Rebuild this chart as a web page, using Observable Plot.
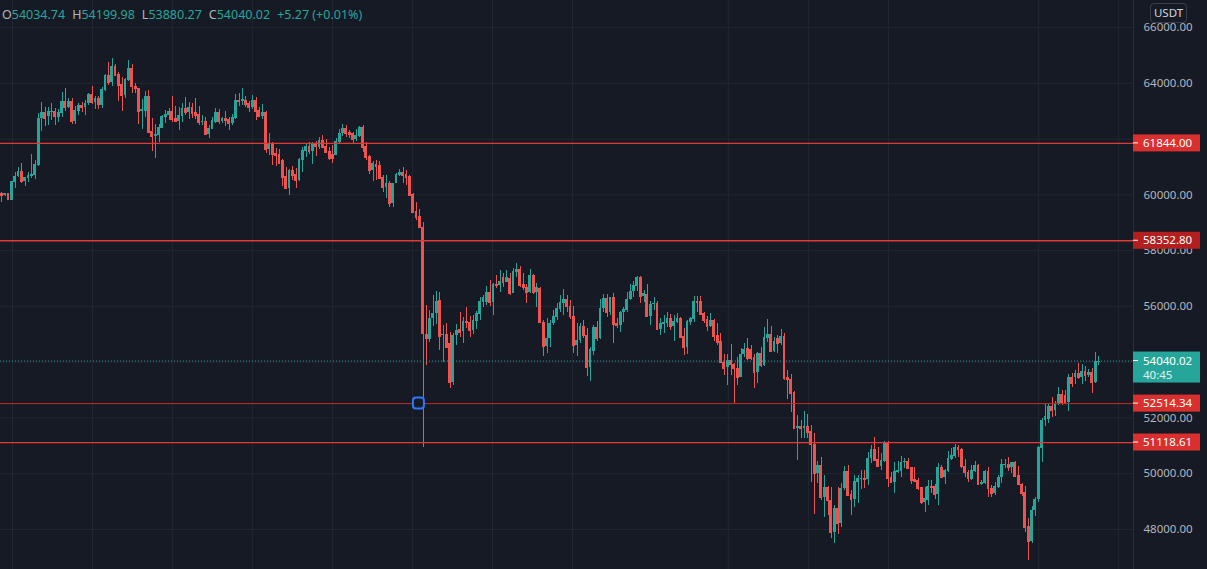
<!DOCTYPE html>
<html><head><meta charset="utf-8">
<script src="https://cdn.jsdelivr.net/npm/d3@7"></script>
<script src="https://cdn.jsdelivr.net/npm/@observablehq/plot@0.6"></script>
<style>
html,body{margin:0;padding:0;background:#161a25;overflow:hidden}
#wrap{position:relative;width:1207px;height:569px}
#hdr{position:absolute;left:2px;top:6px;font-family:"Noto Sans";font-size:12.5px;line-height:18px;color:#b2b5be;white-space:nowrap}
#hdr .v{color:#26a69a;margin-right:7px}
#usdt{position:absolute;left:1150px;top:3px;width:35px;height:18px;border:1px solid #3a3e4a;border-radius:4px;font-family:"Noto Sans";font-size:11.5px;color:#d1d4dc;text-align:center;line-height:18px;background:#161a25}
</style></head>
<body><div id="wrap"><div id="chart"></div>
<div id="hdr"><span>O</span><span class="v">54034.74</span><span>H</span><span class="v">54199.98</span><span>L</span><span class="v">53880.27</span><span>C</span><span class="v">54040.02</span><span class="v">+5.27 (+0.01%)</span></div>
<div id="usdt">USDT</div>
</div>
<script>
const opens = [
60061,59977,60037,59810,60455,60658,60837,60491,60586,60658,
60706,61052,62725,62952,62821,62952,62988,62785,62928,63347,
63144,63347,62642,62988,63203,63144,63263,63598,63323,63442,
63203,63741,64279,64040,64601,64315,63956,63574,64100,64530,
63884,63801,63000,63000,63526,62271,62092,62140,62391,62785,
62845,62988,62737,62642,62809,63108,62952,63120,62964,62880,
62606,62642,62164,62355,62606,62953,62642,62749,62714,62546,
62726,63383,63347,63383,63287,63144,63383,63024,62809,62953,
61638,61853,61495,61447,61232,60658,60240,60873,60730,60515,
61232,61567,61734,61567,61853,61710,61949,61734,61567,61447,
61411,61889,62188,62367,62248,62212,61985,62104,62415,61734,
61375,60873,61088,61052,60634,60276,60419,59702,60395,60694,
60813,60730,60658,60001,59403,59224,58817,54993,54814,55555,
55734,56212,54957,54993,54658,53284,54957,55160,55112,55471,
55435,55136,55471,55710,56152,56152,56511,56152,56786,56750,
57048,56869,56988,56475,57228,57311,56786,56690,56511,57108,
56511,56630,55435,54575,54838,55375,55614,55889,56116,56248,
55997,55638,54598,54778,55279,54956,53821,54395,55255,54861,
55936,56295,55793,56331,55375,55303,55793,55852,56247,56546,
56713,57047,56354,56426,55637,56068,56115,55159,55351,55375,
55554,55291,55434,55554,54920,54514,55434,55530,56175,56175,
55757,55518,55291,55494,54956,54741,54000,53797,54060,53917,
53785,53462,54263,54478,54442,54180,53642,54299,53881,54861,
54992,54383,54837,54657,54921,53463,53379,52925,51611,51694,
51611,51694,51515,51049,49997,50296,49161,49520,49042,47906,
48743,48205,49460,50081,49257,49077,49699,49806,49842,49806,
50559,50882,50500,50272,50452,51133,49878,49699,50057,50081,
50392,50440,50213,49782,49758,49520,48958,49041,49543,49543,
49257,50237,49878,50093,50511,50631,50929,50869,50272,50033,
49794,50093,50296,49603,49638,50081,49483,49280,49519,49854,
50296,50332,50212,50415,49937,49615,49340,48108,47583,48683,
49065,50893,51909,51957,52423,52268,52507,52841,52805,52543,
53462,53439,53606,53462,53666,53534,53618,53283,54034.74];
const highs = [
60085,60061,60037,60479,60802,60981,61124,60634,60814,61447,
61232,62905,63311,63120,63120,63263,63084,63060,63669,63813,
63466,63466,63168,63287,63323,63371,63622,63884,63526,63526,
63861,64315,64733,64888,64673,64398,64219,64159,64817,64673,
63980,63825,63406,63717,63741,62725,62522,62522,62845,63024,
63084,63526,63168,63120,63287,63478,63323,63263,63466,63168,
62845,62762,62487,62762,63096,63048,62785,62989,62785,62869,
63598,63646,63813,63526,63359,63562,63502,63120,63240,62989,
62188,61889,61650,61614,61268,60969,60897,61017,60933,61315,
61710,61829,61889,61889,61925,62044,62128,61973,61710,61769,
62008,62331,62522,62487,62307,62248,62331,62451,62487,61889,
61411,61208,61232,61208,60694,60694,60490,60419,60777,60909,
60969,60873,60682,60036,59738,59463,59020,56033,55854,56392,
56535,56511,55316,55376,55076,55017,55340,55770,55614,55973,
55638,55674,55818,56332,56392,56714,56929,56810,57108,57287,
57168,57287,57168,57347,57526,57431,57168,56786,57311,57132,
56810,56666,55495,55555,55495,55854,56092,56392,56594,56392,
56212,55997,55376,55376,55494,55195,54538,55315,55458,56235,
56426,56426,56331,56450,55554,55829,55972,56510,56785,56904,
57071,57083,56570,56785,56187,56307,56187,55554,55673,55793,
55709,55673,55733,55613,55195,55494,55613,56354,56354,56354,
55793,55637,55733,55518,55398,55040,54275,54275,54634,53940,
54156,54478,54657,54837,54598,54263,54359,54538,55255,55518,
55279,54873,54956,55159,55016,53702,53547,52961,52089,51910,
52232,52125,51731,51431,50440,50595,49938,49543,49519,48862,
49519,49639,50260,50296,49400,49938,49938,50117,50117,50774,
51013,51312,50954,50714,51156,51156,50057,50416,50440,50631,
50535,50535,50237,50237,49818,49520,49520,49758,49758,49603,
50356,50296,50141,50798,50918,51037,51013,50917,50511,50117,
50296,50451,50320,49758,50117,50236,49578,49698,49937,50511,
50511,50571,50415,50451,50260,49638,49555,48384,48838,49160,
50977,51993,52470,52482,52746,52590,53104,52984,52984,53558,
53582,53701,53964,53917,53845,53725,53761,54335,54199.98];
const lows = [
59714,59954,59810,59798,60216,60634,60419,60300,60455,60574,
60562,61016,62271,62450,62498,62666,62498,62606,62785,63000,
63084,62522,62534,62845,62964,62845,63203,63227,63060,63048,
63084,63717,63932,63884,64243,63359,63000,63442,64076,63645,
63622,62522,62343,62785,62211,61554,61315,61889,62367,62546,
62666,62606,62606,62307,62606,62845,62689,62725,62689,62500,
62487,62128,62032,62331,62570,62511,62546,62450,62307,62487,
62714,63168,63192,63120,62941,63060,62666,62761,62702,61495,
61411,61053,61017,61112,60300,60216,59989,60515,60240,60491,
60814,61327,61447,61088,61375,61626,61650,61471,61232,61112,
61411,61829,62092,62068,62008,61853,61925,62068,61531,61232,
60718,60491,60515,60550,60097,59858,59558,59558,60395,60670,
60395,60335,59950,59319,59080,58782,50954,53881,54718,55290,
55352,54419,54001,54479,53045,53165,54598,54896,54682,55196,
54872,54992,55160,55495,55973,56033,55997,55674,56630,56511,
56666,56869,56392,56451,57048,56690,56570,56116,56451,56426,
55973,55400,54216,54324,54539,55316,55495,55794,55674,55794,
55519,54324,54204,54658,54837,53486,53319,54239,54753,54813,
55793,55590,55673,54657,55195,55076,55434,55793,56211,56331,
56546,56092,56151,55637,55315,55852,55136,54956,55016,55255,
55136,54741,55375,54873,54239,54275,55315,55434,55769,55673,
55375,55112,55255,54741,54598,53976,53522,53164,53522,52520,
53164,53438,54180,54060,54060,53068,53223,53821,53845,54717,
54359,54359,54299,54598,53344,52650,52208,51587,50476,51252,
51252,51252,49699,48540,49639,49041,48444,48504,47667,47488,
47822,48085,49400,49185,48504,48803,48946,49436,49484,49579,
50380,50476,50272,50117,50416,49519,49675,49281,50000,49878,
50177,50177,49615,49675,49400,48898,48623,48862,49304,49077,
48862,49818,49615,50057,50476,50535,50595,50176,49878,49698,
49758,50057,49580,49579,49615,49137,49160,49220,49459,49662,
50176,50093,50021,49877,49567,49196,47882,46890,47488,48479,
48980,50415,51694,51813,52029,52052,52447,52447,52470,52243,
53104,53199,53378,53199,53319,53462,52865,53223,53880.27];
const closes = [
59977,60037,59822,60479,60658,60849,60491,60634,60682,60730,
61076,62725,62952,62749,62988,62988,62797,62940,63347,63144,
63347,62642,63024,63203,63144,63287,63598,63323,63442,63227,
63765,64279,64040,64601,64279,63932,63574,64123,64530,63884,
63801,63000,63060,63526,62247,62092,62164,62403,62809,62880,
62988,62713,62642,62845,63084,62940,63120,62905,62845,62606,
62642,62152,62391,62666,62953,62618,62749,62666,62570,62785,
63383,63359,63407,63240,63120,63383,63000,62809,62953,61638,
61806,61447,61399,61136,60634,60240,60873,60694,60515,61268,
61590,61734,61567,61853,61734,61949,61710,61531,61315,61315,
61913,62212,62367,62188,62164,61985,62128,62415,61710,61327,
60873,61112,61017,60574,60276,60419,59701,60419,60730,60813,
60694,60634,59977,59379,59200,58818,55017,54838,55555,55758,
56188,54933,54993,54539,53284,54957,55136,55076,55471,55435,
55136,55495,55734,56188,56308,56511,56152,56786,56750,56893,
56869,57024,56475,57264,57323,56750,56666,56511,57108,56511,
56666,55435,54575,54838,55400,55638,55913,56128,56248,55997,
55638,54598,54778,55279,54956,53821,54442,55255,54861,55936,
56295,55793,56331,55339,55303,55793,55876,56247,56546,56749,
57047,56354,56450,55637,56068,56115,55159,55375,55434,55554,
55291,55458,55554,54873,54514,55458,55554,56175,56151,55709,
55494,55291,55494,54932,54717,53976,53785,54060,53905,53761,
53462,54263,54442,54144,54144,53642,54299,53881,54873,54992,
54383,54753,54657,54920,53427,53367,52889,51611,51694,51611,
51694,51491,51037,49997,50296,49161,49520,49042,47906,48743,
48205,49460,50081,49221,49077,49723,49818,49842,49806,50559,
50882,50476,50272,50476,51133,49842,49699,50081,50117,50416,
50440,50201,49758,49723,49460,48958,49101,49543,49519,49257,
50237,49878,50117,50559,50655,50954,50858,50272,50033,49818,
50117,50296,49603,49698,50081,49459,49304,49543,49878,50320,
50320,50212,50391,49913,49603,49280,48085,47583,48683,49065,
50929,51909,52061,52423,52268,52530,52841,52566,52543,53462,
53223,53606,53462,53666,53534,53618,53283,54036,54040.02];

// candle index where each day's grid line falls
const dayStarts = [3.2, 27.1, 51.0, 74.9, 98.9, 122.8, 146.7, 170.6, 217.2, 241.2, 265.1, 310.0, 333.9];
const yTicks = [48000, 50000, 52000, 54000, 56000, 58000, 60000, 62000, 64000, 66000];
const priceLevels = [61844.00, 58352.80, 52514.34, 51118.61];
const levelLabelColors = ["#d9302f", "#b31e1e", "#d9302f", "#d9302f"];
const lastPrice = 54040.02;
const countdown = "40:45";
const anchorPoint = {index: 124.7, price: 52514.34};

const UP = "#26a69a", DOWN = "#ef5350";
const candles = closes.map((c, i) => ({i, open: opens[i], high: highs[i], low: lows[i], close: c}));
const col = d => d.close >= d.open ? UP : DOWN;
const xDomain = [-0.39, 338.33];
const hw = 0.42;

const chart = Plot.plot({
  width: 1207, height: 569,
  marginLeft: 0, marginRight: 74, marginTop: 0, marginBottom: 0,
  style: {background: "#161a25", color: "#b2b5be", fontFamily: "Noto Sans", fontSize: "11.5px", overflow: "visible"},
  x: {type: "linear", domain: xDomain, axis: null},
  y: {domain: [46566, 66968], axis: null},
  color: {type: "identity"},
  marks: [
    Plot.ruleY(yTicks, {stroke: "#232632", strokeWidth: 1}),
    Plot.ruleX(dayStarts, {stroke: "#232632", strokeWidth: 1}),
    Plot.ruleX(candles, {x: "i", y1: "low", y2: "high", stroke: col, strokeWidth: 1, shapeRendering: "crispEdges"}),
    Plot.rect(candles, {x1: d => d.i - hw, x2: d => d.i + hw, y1: "open", y2: "close", fill: col, shapeRendering: "crispEdges"}),
    Plot.ruleY(candles, {y: "close", x1: d => d.i - hw, x2: d => d.i + hw, stroke: col, strokeWidth: 1, shapeRendering: "crispEdges"}),
    Plot.ruleY(priceLevels, {stroke: (d, i) => i === 2 ? "#c62828" : "#e53935", strokeWidth: (d, i) => i === 2 ? 1 : 1.3}),
    Plot.ruleY([lastPrice], {stroke: UP, strokeWidth: 1, strokeDasharray: "1,2"}),
    Plot.ruleX([xDomain[1]], {stroke: "#2a2e39", strokeWidth: 1}),
    Plot.text(yTicks, {y: d => d, frameAnchor: "right", dx: 10, textAnchor: "start", text: d => d.toFixed(2), fill: "#b2b5be", fontSize: 11.5})
  ]
});
document.getElementById("chart").appendChild(chart);

const sy = chart.scale("y"), sx = chart.scale("x");
const svg = d3.select(chart);
const axisX = sx.apply(xDomain[1]);
const g = svg.append("g").attr("font-family", "Noto Sans").attr("font-size", 11.5).attr("text-anchor", "start");

priceLevels.forEach((p, k) => {
  const yy = sy.apply(p);
  g.append("rect").attr("x", axisX).attr("y", yy - 8.5).attr("width", 67).attr("height", 17).attr("fill", levelLabelColors[k]);
  g.append("line").attr("x1", axisX).attr("x2", axisX + 5).attr("y1", yy).attr("y2", yy).attr("stroke", "#ffffff").attr("stroke-width", 1);
  g.append("text").attr("x", axisX + 10).attr("y", yy).attr("dy", "0.35em").attr("text-anchor", "start").attr("fill", "#ffffff").text(p.toFixed(2));
});

{
  const yy = sy.apply(lastPrice);
  g.append("rect").attr("x", axisX).attr("y", yy - 9).attr("width", 67).attr("height", 31).attr("fill", UP);
  g.append("line").attr("x1", axisX).attr("x2", axisX + 5).attr("y1", yy).attr("y2", yy).attr("stroke", "#ffffff").attr("stroke-width", 1);
  g.append("text").attr("x", axisX + 10).attr("y", yy).attr("dy", "0.35em").attr("text-anchor", "start").attr("fill", "#ffffff").text(lastPrice.toFixed(2));
  g.append("text").attr("x", axisX + 10).attr("y", yy + 14.5).attr("dy", "0.35em").attr("text-anchor", "start").attr("fill", "#e0f2f1").text(countdown);
}

{
  const ax = sx.apply(anchorPoint.index), ay = sy.apply(anchorPoint.price);
  svg.append("rect").attr("x", ax - 5.5).attr("y", ay - 5.5).attr("width", 11).attr("height", 11).attr("rx", 3)
    .attr("fill", "#161a25").attr("stroke", "#2979ff").attr("stroke-width", 2);
}
</script>
</body></html>
